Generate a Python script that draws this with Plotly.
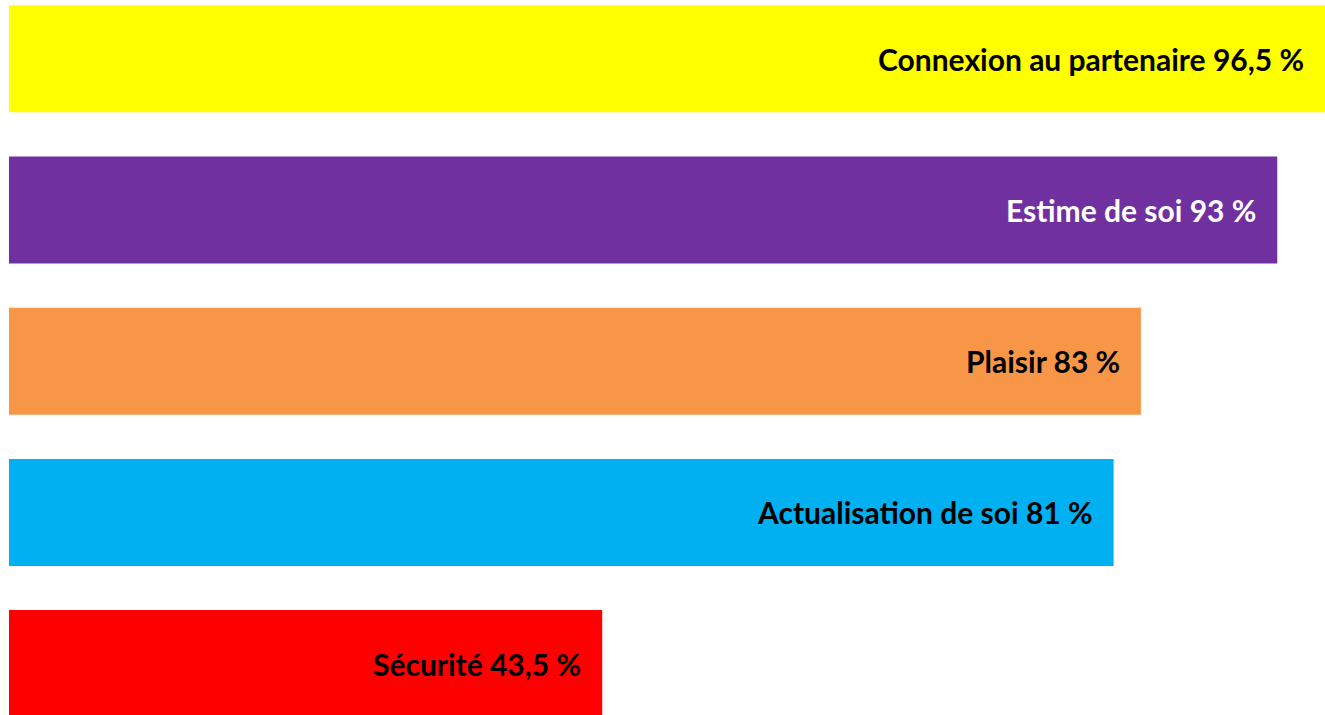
import plotly.graph_objects as go

categories = ["Connexion au partenaire", "Estime de soi", "Plaisir", "Actualisation de soi", "Sécurité"]
values = [96.5, 93, 83, 81, 43.5]
value_labels = ["96,5 %", "93 %", "83 %", "81 %", "43,5 %"]
colors = ["#FFFF00", "#7030A0", "#F79646", "#00B0F0", "#FF0000"]
text_colors = ["#000000", "#FFFFFF", "#000000", "#000000", "#000000"]

W, H = 1325, 715
px_per_unit = (1325 - 9) / 96.5
x0 = -9 / px_per_unit

pitch = 151.2
c0 = 58.8
y_top = -c0 / pitch
y_bot = (H - c0) / pitch

fig = go.Figure()
fig.add_trace(go.Bar(
    x=values,
    y=list(range(len(categories))),
    orientation="h",
    width=107 / pitch,
    marker=dict(color=colors, line=dict(width=0)),
    hoverinfo="skip",
))

for i, (cat, v, lab, tc) in enumerate(zip(categories, values, value_labels, text_colors)):
    fig.add_annotation(
        x=v, y=i, xref="x", yref="y",
        text=f"<b>{cat} {lab}</b>",
        showarrow=False, xanchor="right", yanchor="middle",
        xshift=-19, yshift=0,
        font=dict(family="Lato", size=30, color=tc),
    )

fig.update_layout(
    width=W, height=H,
    margin=dict(l=0, r=0, t=0, b=0),
    paper_bgcolor="white", plot_bgcolor="white",
    showlegend=False,
    xaxis=dict(range=[x0, 96.5], visible=False, fixedrange=True),
    yaxis=dict(range=[y_bot, y_top], visible=False, fixedrange=True),
)

fig.write_html("out.html", config={"displayModeBar": False})
